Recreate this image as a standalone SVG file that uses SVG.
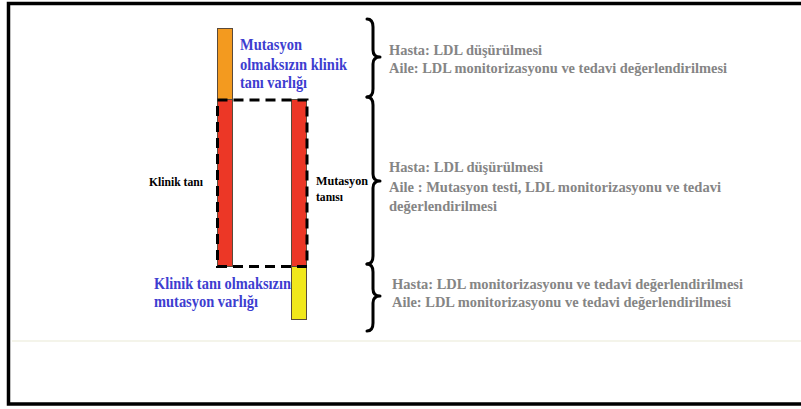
<svg xmlns="http://www.w3.org/2000/svg" width="801" height="409" viewBox="0 0 801 409">
  <style>
    .bar { stroke: #5a4a3a; stroke-width: 1; }
    .brace { fill: none; stroke: #000; stroke-width: 3; stroke-linejoin: round; stroke-linecap: round; }
    .dash { fill: none; stroke: #000; stroke-width: 3; stroke-dasharray: 10 6; }
    text { font-family: 'Liberation Serif', 'DejaVu Serif', serif; font-weight: bold; }
    .blue { font-size: 16px; fill: #3d3dd0; }
    .gray { font-size: 15px; fill: #858585; }
    .black { font-size: 13px; fill: #000; }
  </style>
  <rect x="0" y="0" width="801" height="409" fill="#fff"/>
  <rect id="frame" x="8.5" y="3.5" width="800" height="400.5" fill="none" stroke="#000" stroke-width="3.5"/>
  <line x1="12" y1="341" x2="801" y2="341" stroke="#f4f4ea" stroke-width="2"/>

  <g id="bar-orange">
    <rect class="bar" x="217.5" y="28.5" width="15" height="71" fill="#f39a1f"/>
  </g>
  <g id="bar-red-left">
    <rect class="bar" x="217.5" y="99.5" width="15" height="167" fill="#ec3726"/>
  </g>
  <g id="bar-red-right">
    <rect class="bar" x="291.5" y="99.5" width="15" height="167" fill="#ec3726"/>
  </g>
  <g id="bar-yellow">
    <rect class="bar" x="291.5" y="266.5" width="15" height="53" fill="#f1e71b"/>
  </g>

  <g id="label-mutasyon-olmaksizin">
    <text class="blue" x="240" y="50" textLength="62" lengthAdjust="spacingAndGlyphs">Mutasyon</text>
    <text class="blue" x="240" y="70" textLength="107" lengthAdjust="spacingAndGlyphs">olmaksızın klinik</text>
    <text class="blue" x="240" y="88" textLength="67" lengthAdjust="spacingAndGlyphs">tanı varlığı</text>
  </g>
  <g id="label-klinik-tani">
    <text class="black" x="149" y="186" textLength="54" lengthAdjust="spacingAndGlyphs">Klinik tanı</text>
  </g>
  <g id="label-mutasyon-tanisi">
    <text class="black" x="316" y="185" textLength="52" lengthAdjust="spacingAndGlyphs">Mutasyon</text>
    <text class="black" x="316" y="201" textLength="27" lengthAdjust="spacingAndGlyphs">tanısı</text>
  </g>
  <g id="label-klinik-olmaksizin">
    <text class="blue" x="154" y="289" textLength="137" lengthAdjust="spacingAndGlyphs">Klinik tanı olmaksızın</text>
    <text class="blue" x="154" y="307" textLength="104" lengthAdjust="spacingAndGlyphs">mutasyon varlığı</text>
  </g>

  <g id="note-top">
    <text class="gray" x="389" y="55" textLength="153" lengthAdjust="spacingAndGlyphs">Hasta: LDL düşürülmesi</text>
    <text class="gray" x="389" y="73" textLength="338" lengthAdjust="spacingAndGlyphs">Aile: LDL monitorizasyonu ve tedavi değerlendirilmesi</text>
  </g>
  <g id="note-middle">
    <text class="gray" x="389" y="172" textLength="154" lengthAdjust="spacingAndGlyphs">Hasta: LDL düşürülmesi</text>
    <text class="gray" x="389" y="192" textLength="332" lengthAdjust="spacingAndGlyphs">Aile : Mutasyon testi, LDL monitorizasyonu ve tedavi</text>
    <text class="gray" x="389" y="211" textLength="108" lengthAdjust="spacingAndGlyphs">değerlendirilmesi</text>
  </g>
  <g id="note-bottom">
    <text class="gray" x="392" y="289" textLength="351" lengthAdjust="spacingAndGlyphs">Hasta: LDL monitorizasyonu ve tedavi değerlendirilmesi</text>
    <text class="gray" x="392" y="307" textLength="339" lengthAdjust="spacingAndGlyphs">Aile: LDL monitorizasyonu ve tedavi değerlendirilmesi</text>
  </g>

  <g id="connectors">
    <path class="dash" d="M217.5 100 H307 V266.5 H217.5 Z"/>
    <path class="brace" d="M367 19 Q373 19 373 27 L373 50 Q373 57 380 57 Q373 57 373 64 L373 89 Q373 97 367 97"/>
    <path class="brace" d="M367 97 Q373 97 373 105 L373 174 Q373 181 380 181 Q373 181 373 188 L373 256 Q373 264 367 264"/>
    <path class="brace" d="M367 264 Q373 264 373 272 L373 289 Q373 296 380 296 Q373 296 373 303 L373 323 Q373 331 367 331"/>
  </g>
</svg>
